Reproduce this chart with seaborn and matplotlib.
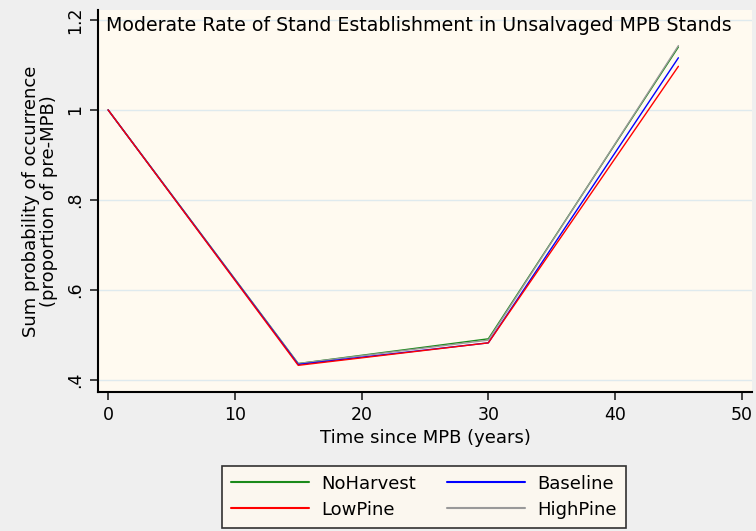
import pandas as pd
import matplotlib.pyplot as plt
import seaborn as sns
from matplotlib.lines import Line2D

# values
years = [0, 15, 30, 45]
no_harvest = [1.0, 0.436, 0.491, 1.140]
baseline = [1.0, 0.434, 0.482, 1.116]
low_pine = [1.0, 0.432, 0.482, 1.097]
high_pine = [1.0, 0.436, 0.488, 1.143]

scenarios = ["NoHarvest", "HighPine", "Baseline", "LowPine"]
series = {"NoHarvest": no_harvest, "Baseline": baseline,
          "LowPine": low_pine, "HighPine": high_pine}
colors = {"NoHarvest": "#1a8a1a", "Baseline": "#0000ff",
          "LowPine": "#ff0000", "HighPine": "#999999"}

rows = []
for name in scenarios:
    for x, y in zip(years, series[name]):
        rows.append({"Time": x, "Value": y, "Scenario": name})
df = pd.DataFrame(rows)

sns.set_style("white")
plt.rcParams["font.family"] = ["DejaVu Sans"]
plt.rcParams["text.color"] = "black"
plt.rcParams["axes.labelcolor"] = "black"
plt.rcParams["xtick.color"] = "black"
plt.rcParams["ytick.color"] = "black"

fig = plt.figure(figsize=(7.56, 5.31), dpi=100, facecolor="#efefef")
ax = fig.add_axes([0.1296, 0.262, 0.865, 0.719])
ax.set_facecolor("#fffaf0")

sns.lineplot(data=df, x="Time", y="Value", hue="Scenario",
             hue_order=scenarios, palette=colors, linewidth=1.0,
             legend=False, ax=ax, zorder=3)

ax.set_xlim(-0.8, 50.8)
ax.set_ylim(0.373, 1.222)
ax.set_xticks([0, 10, 20, 30, 40, 50])
ax.set_yticks([0.4, 0.6, 0.8, 1.0, 1.2])
ax.set_yticklabels([".4", ".6", ".8", "1", "1.2"], rotation=90, va="center")
ax.yaxis.grid(True, color="#dfeaee", linewidth=1.0)
ax.set_axisbelow(True)

for side in ["top", "right"]:
    ax.spines[side].set_visible(False)
for side in ["left", "bottom"]:
    ax.spines[side].set_color("black")
    ax.spines[side].set_linewidth(1.5)
ax.tick_params(axis="both", direction="out", length=6, width=1.2,
               color="#222222", labelsize=12.5, pad=4, bottom=True, left=True)

ax.set_xlabel("Time since MPB (years)", fontsize=13, labelpad=4)
ax.set_ylabel("Sum probability of occurrence\n(proportion of pre-MPB)",
              fontsize=13, labelpad=6, linespacing=1.0)

ax.text(0.012, 0.985, "Moderate Rate of Stand Establishment in Unsalvaged MPB Stands",
        transform=ax.transAxes, fontsize=13.7, va="top", ha="left")

legend_order = ["NoHarvest", "LowPine", "Baseline", "HighPine"]
handles = [Line2D([], [], color=colors[n], linewidth=1.5) for n in legend_order]
leg = fig.legend(handles, legend_order, ncol=2, loc="lower center",
                 bbox_to_anchor=(0.561, 0.006), frameon=True, fontsize=13,
                 handlelength=4.3, columnspacing=1.7, handletextpad=0.7,
                 borderpad=0.5, labelspacing=0.45, fancybox=False,
                 borderaxespad=0)
leg.get_frame().set_facecolor("#fffaf0")
leg.get_frame().set_edgecolor("black")
leg.get_frame().set_linewidth(1.2)

fig.savefig("out.png", dpi=100, facecolor=fig.get_facecolor())
